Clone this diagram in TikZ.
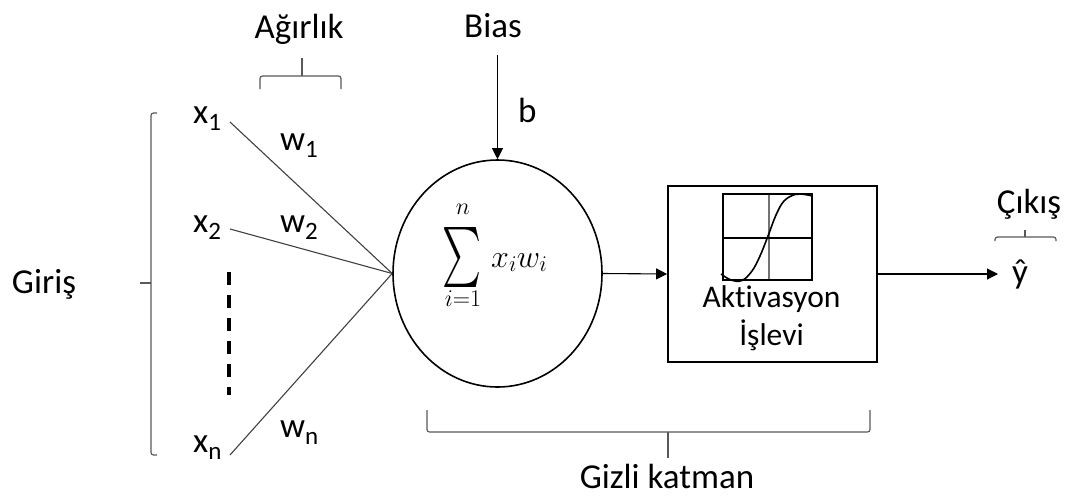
\RequirePackage{fix-cm}
\documentclass[tikz,border=0pt]{standalone}
\usepackage{fontspec}
\usepackage{graphicx}
\setmainfont{Carlito}[Ligatures=NoCommon]
\usetikzlibrary{arrows.meta,shapes.geometric}
\newcommand\dnsub[1]{\raisebox{-7pt}{\fontsize{25}{30}\selectfont #1}}
\tikzset{
  lab/.style={inner sep=0pt, font=\fontsize{35}{42}\selectfont, text=black},
  smalllab/.style={inner sep=0pt, font=\fontsize{31.5}{38}\selectfont, text=black},
  inline/.style={draw=black!75, line width=1.1pt},
  bracket/.style={draw=black!65, line width=1.2pt, rounded corners=2.5pt},
  mainline/.style={draw=black, line width=1.4pt},
  arr/.style={mainline, -{Triangle[length=11pt,width=11pt]}},
}
\begin{document}
\begin{tikzpicture}[x=1pt,y=-1pt]
\useasboundingbox (0,0) rectangle (1069,499);
% labels
\node[lab,anchor=base] (agirlik) at (299,38) {Ağırlık};
\node[lab,anchor=base] (bias) at (493,37) {Bias};
\node[lab,anchor=base west] (bl) at (518,122) {b};
\node[lab,anchor=base] (giris) at (44,293) {Giriş};
\node[lab,anchor=base] (cikis) at (1029,213) {Çıkış};
\node[lab,anchor=base] (gizli) at (667,488) {Gizli katman};
% inputs
\node[lab,anchor=base west] (x1) at (193,123) {x\dnsub{1}};
\node[lab,anchor=base west] (x2) at (193,232) {x\dnsub{2}};
\node[lab,anchor=base west] (xn) at (193,452) {x\dnsub{n}};
\node[lab,anchor=base west] (w1) at (280,150) {w\dnsub{1}};
\node[lab,anchor=base west] (w2) at (280,232) {w\dnsub{2}};
\node[lab,anchor=base west] (wn) at (280,437) {w\dnsub{n}};
\coordinate (x1e) at (230,122);
\coordinate (x2e) at (230,229);
\coordinate (xne) at (230,455);
% summation node
\node[ellipse, draw=black, line width=1.6pt, minimum width=209pt, minimum height=227pt, inner sep=0pt] (sum) at (497.5,273.5) {};
\node[inner sep=0pt] (sig) at (462,257) {\resizebox{39pt}{60pt}{\raisebox{\depth}{$\sum$}}};
\node[inner sep=0pt, font=\fontsize{24}{28}\selectfont] (sn) at (463,209) {$n$};
\node[inner sep=0pt, font=\fontsize{24}{28}\selectfont] (si) at (463,299) {$i{=}1$};
\node[inner sep=0pt, anchor=base west, font=\fontsize{32}{36}\selectfont] (xw) at (491,267) {$x_i w_i$};
% input lines
\draw[inline] (x1e) -- (sum.west);
\draw[inline] (x2e) -- (sum.west);
\draw[inline] (xne) -- (sum.west);
\draw[line width=4.5pt, dash pattern=on 13pt off 10pt] (229,272) coordinate (d1) -- (229,395) coordinate (d2);
% bias arrow
\coordinate (bstart) at (497.5,55);
\draw[arr, line width=1.1pt] (bstart) -- (sum.north);
% activation box
\node[draw=black, line width=1.8pt, minimum width=209pt, minimum height=176pt, inner sep=0pt] (act) at (772.5,274) {};
\node[smalllab,anchor=base] (akt) at (771.5,307) {Aktivasyon};
\node[smalllab,anchor=base] (isl) at (771.5,345) {İşlevi};
\draw[arr, line width=1.1pt] (sum.east) -- (act.west);
\coordinate (outend) at (998,274);
\draw[arr, line width=1.1pt] (act.east) -- (outend);
\node[lab,anchor=base west] (yhat) at (1012,283) {ŷ};
% small chart
\draw[black!55, line width=1.1pt] (769,194) -- (769,280);
\draw[black, line width=1.1pt] (723,238) -- (812,238);
\draw[black, line width=1.4pt] (723,194) rectangle (812,280);
\draw[black, line width=1.6pt] plot[smooth, tension=0.6] coordinates {(721,274) (731,280) (742,280.5) (752,271) (760,256) (768,236) (776,215) (784,201) (795,194.5) (805,194.5) (812,196)};
% braces
\draw[bracket] (260,89) -- (260,76) -- (341,76) -- (341,89);
\draw[bracket, rounded corners=0pt] (302,76) -- (302,58);
\draw[bracket] (157,113) -- (151,113) -- (151,455) -- (157,455);
\draw[bracket, rounded corners=0pt] (151,283) -- (140,283);
\draw[bracket] (995,241) -- (995,237) -- (1056,237) -- (1056,241);
\draw[bracket, rounded corners=0pt] (1025,237) -- (1025,230);
\draw[bracket] (427,410) -- (427,432) -- (870,432) -- (870,410);
\draw[bracket, rounded corners=0pt] (668,432) -- (668,458);
\end{tikzpicture}
\end{document}
